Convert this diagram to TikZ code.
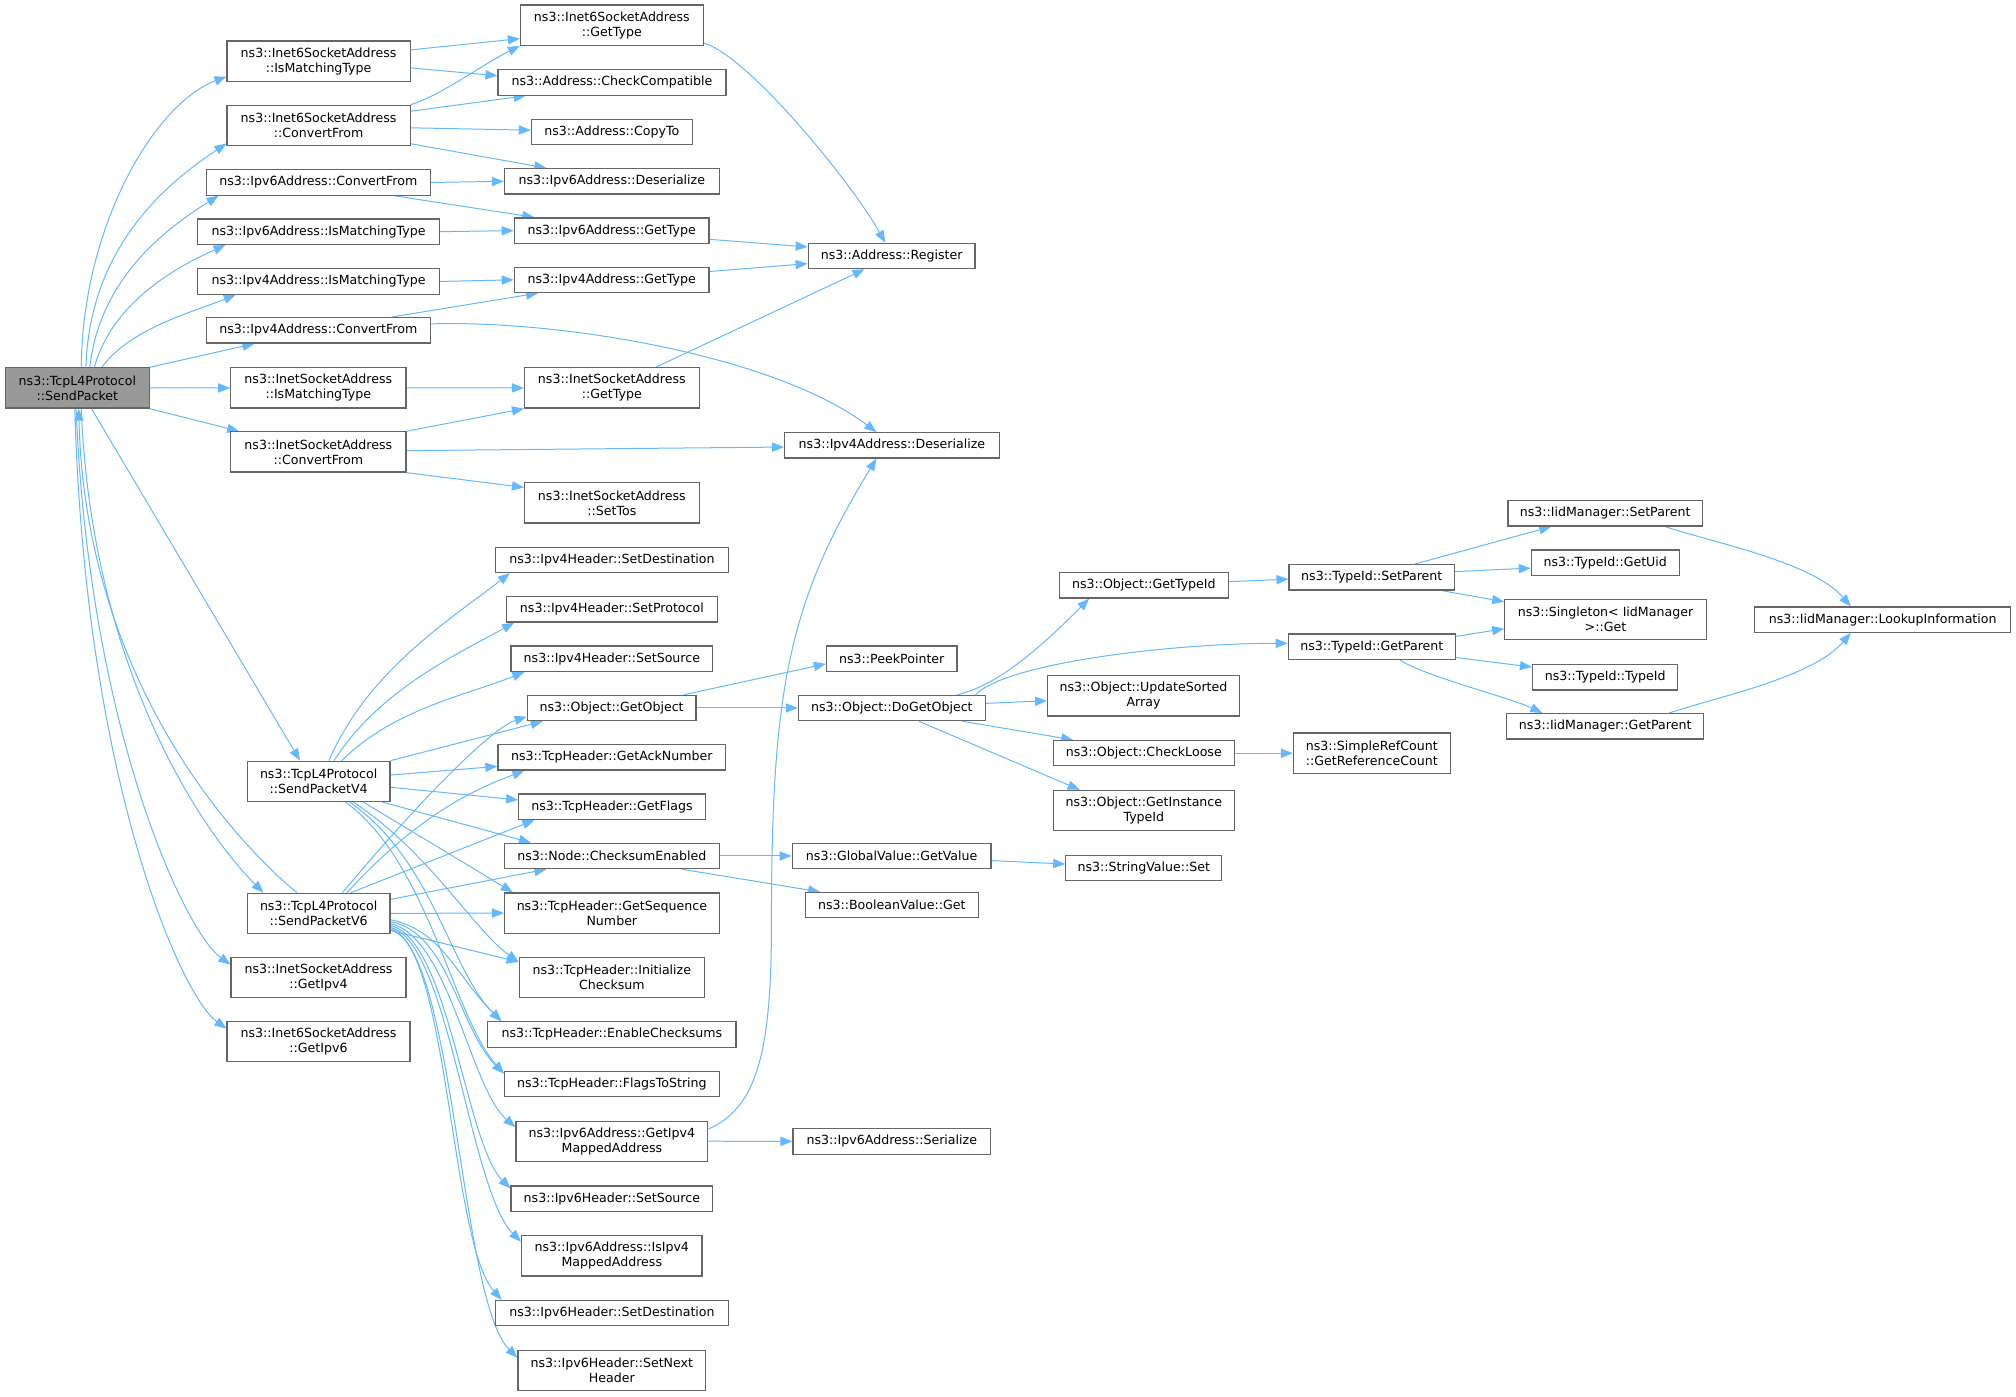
\documentclass[tikz,border=0pt]{standalone}
\usepackage{fontspec}
\setmainfont{DejaVu Sans}
\usepackage{tikz}
\usetikzlibrary{arrows.meta,backgrounds,calc,positioning}
\definecolor{callblue}{HTML}{63B8FF}
\definecolor{boxgray}{HTML}{666666}
\definecolor{rootgray}{HTML}{999999}
\begin{document}
\begin{tikzpicture}[x=0.643pt,y=-0.643pt,
  fn/.style={draw=boxgray,fill=white,line width=0.6pt,inner xsep=1pt,inner ysep=0pt,minimum height=12.7pt,align=center,font=\fontsize{6.3}{7.5}\selectfont},
  fntwo/.style={fn,minimum height=20.1pt},
  root/.style={fill=rootgray},
  bw/.style={minimum width=#1*0.643pt},
  call/.style={draw=callblue,line width=0.5pt,-{Triangle[length=6pt,width=4.6pt]}}]
\useasboundingbox (0,0) rectangle (1568,1085.8);
\node[fntwo,root,bw=111.6] (SendPacket) at (60.2,301.75) {ns3::TcpL4Protocol\\::SendPacket};
\node[fntwo,bw=142.4] (Inet6IsMatching) at (247.8,47.5) {ns3::Inet6SocketAddress\\::IsMatchingType};
\node[fntwo,bw=142.4] (Inet6ConvertFrom) at (247.8,97.5) {ns3::Inet6SocketAddress\\::ConvertFrom};
\node[fn,bw=174.4] (Ipv6ConvertFrom) at (247.6,141.9) {ns3::Ipv6Address::ConvertFrom};
\node[fn,bw=188] (Ipv6IsMatching) at (247.8,180.2) {ns3::Ipv6Address::IsMatchingType};
\node[fn,bw=188] (Ipv4IsMatching) at (247.8,218.9) {ns3::Ipv4Address::IsMatchingType};
\node[fn,bw=174.4] (Ipv4ConvertFrom) at (247.6,256.9) {ns3::Ipv4Address::ConvertFrom};
\node[fntwo,bw=136.2] (InetIsMatching) at (247.6,301.7) {ns3::InetSocketAddress\\::IsMatchingType};
\node[fntwo,bw=136.2] (InetConvertFrom) at (247.6,351.5) {ns3::InetSocketAddress\\::ConvertFrom};
\node[fntwo,bw=110.9] (SendPacketV4) at (247.85,607.7) {ns3::TcpL4Protocol\\::SendPacketV4};
\node[fntwo,bw=110.9] (SendPacketV6) at (247.85,710.4) {ns3::TcpL4Protocol\\::SendPacketV6};
\node[fntwo,bw=136.1] (InetGetIpv4) at (247.75,760.2) {ns3::InetSocketAddress\\::GetIpv4};
\node[fntwo,bw=142.3] (Inet6GetIpv6) at (247.75,810) {ns3::Inet6SocketAddress\\::GetIpv6};
\node[fntwo,bw=142.2] (Inet6GetType) at (475.9,19.55) {ns3::Inet6SocketAddress\\::GetType};
\node[fn,bw=177.3] (CheckCompatible) at (476,64.15) {ns3::Address::CheckCompatible};
\node[fn,bw=125.1] (CopyTo) at (475.85,102.75) {ns3::Address::CopyTo};
\node[fn,bw=167] (Ipv6Deserialize) at (475.9,141) {ns3::Ipv6Address::Deserialize};
\node[fn,bw=151.5] (Ipv6GetType) at (475.75,179.35) {ns3::Ipv6Address::GetType};
\node[fn,bw=151.5] (Ipv4GetType) at (475.75,217.65) {ns3::Ipv4Address::GetType};
\node[fntwo,bw=135.8] (InetGetType) at (475.9,301.75) {ns3::InetSocketAddress\\::GetType};
\node[fntwo,bw=135.8] (SetTos) at (475.9,391.1) {ns3::InetSocketAddress\\::SetTos};
\node[fn,bw=180.7] (Ipv4SetDestination) at (476,435.45) {ns3::Ipv4Header::SetDestination};
\node[fn,bw=163.8] (Ipv4SetProtocol) at (475.9,473.95) {ns3::Ipv4Header::SetProtocol};
\node[fn,bw=156.8] (Ipv4SetSource) at (475.9,512.35) {ns3::Ipv4Header::SetSource};
\node[fn,bw=131.2] (GetObject) at (475.7,550.65) {ns3::Object::GetObject};
\node[fn,bw=177.1] (GetAckNumber) at (475.85,589.05) {ns3::TcpHeader::GetAckNumber};
\node[fn,bw=145.1] (GetFlags) at (476,627.45) {ns3::TcpHeader::GetFlags};
\node[fn,bw=167] (ChecksumEnabled) at (475.9,665.75) {ns3::Node::ChecksumEnabled};
\node[fntwo,bw=167] (GetSequenceNumber) at (475.9,710.15) {ns3::TcpHeader::GetSequence\\Number};
\node[fntwo,bw=144.2] (InitializeChecksum) at (475.9,760.15) {ns3::TcpHeader::Initialize\\Checksum};
\node[fn,bw=193] (EnableChecksums) at (475.9,804.6) {ns3::TcpHeader::EnableChecksums};
\node[fn,bw=167] (FlagsToString) at (475.9,843) {ns3::TcpHeader::FlagsToString};
\node[fntwo,bw=149.2] (GetIpv4Mapped) at (475.9,887.6) {ns3::Ipv6Address::GetIpv4\\MappedAddress};
\node[fn,bw=156.8] (Ipv6SetSource) at (475.9,932.35) {ns3::Ipv6Header::SetSource};
\node[fntwo,bw=140.3] (IsIpv4Mapped) at (475.85,976.75) {ns3::Ipv6Address::IsIpv4\\MappedAddress};
\node[fn,bw=180.7] (Ipv6SetDestination) at (476,1021.35) {ns3::Ipv6Header::SetDestination};
\node[fntwo,bw=146] (Ipv6SetNextHeader) at (475.9,1066) {ns3::Ipv6Header::SetNext\\Header};
\node[fn,bw=129.8] (Register) at (693.5,199.05) {ns3::Address::Register};
\node[fn,bw=167] (Ipv4Deserialize) at (693.7,346.4) {ns3::Ipv4Address::Deserialize};
\node[fn,bw=101.6] (PeekPointer) at (693.6,512.35) {ns3::PeekPointer};
\node[fn,bw=145.4] (DoGetObject) at (693.7,550.65) {ns3::Object::DoGetObject};
\node[fn,bw=154.6] (GlobalGetValue) at (693.5,665.75) {ns3::GlobalValue::GetValue};
\node[fn,bw=134.7] (BooleanGet) at (693.65,704) {ns3::BooleanValue::Get};
\node[fn,bw=153.7] (Ipv6Serialize) at (693.65,887.75) {ns3::Ipv6Address::Serialize};
\node[fn,bw=131.1] (GetTypeId) at (889.65,455.25) {ns3::Object::GetTypeId};
\node[fntwo,bw=149.2] (UpdateSortedArray) at (889.4,541.2) {ns3::Object::UpdateSorted\\Array};
\node[fn,bw=140.9] (CheckLoose) at (889.65,585.8) {ns3::Object::CheckLoose};
\node[fntwo,bw=140.9] (GetInstanceTypeId) at (889.65,630.4) {ns3::Object::GetInstance\\TypeId};
\node[fn,bw=121.3] (StringSet) at (889.65,675) {ns3::StringValue::Set};
\node[fn,bw=128.7] (TypeIdSetParent) at (1066.95,449.05) {ns3::TypeId::SetParent};
\node[fn,bw=130] (TypeIdGetParent) at (1067,502.95) {ns3::TypeId::GetParent};
\node[fntwo,bw=121.9] (GetReferenceCount) at (1066.95,585.8) {ns3::SimpleRefCount\\::GetReferenceCount};
\node[fn,bw=151.1] (IidSetParent) at (1248.45,399.25) {ns3::IidManager::SetParent};
\node[fn,bw=115] (GetUid) at (1248.5,437.65) {ns3::TypeId::GetUid};
\node[fntwo,bw=156.6] (SingletonGet) at (1248.7,482) {ns3::Singleton< IidManager\\>::Get};
\node[fn,bw=113] (TypeIdTypeId) at (1248.5,526.85) {ns3::TypeId::TypeId};
\node[fn,bw=153] (IidGetParent) at (1248.5,564.9) {ns3::IidManager::GetParent};
\node[fn,bw=199.4] (LookupInformation) at (1464.3,482) {ns3::IidManager::LookupInformation};
\begin{scope}[on background layer]
\draw[call] ($(SendPacket.north)+(3,0)$) .. controls +(1,-110) and +(-56,21) .. ($(Inet6IsMatching.south west)+(0,-4)$);
\draw[call] ($(SendPacket.north)+(6.6,0)$) .. controls +(3,-95) and +(-45,30) .. ($(Inet6ConvertFrom.south west)+(0,-2)$);
\draw[call] ($(SendPacket.north)+(9.6,0)$) .. controls +(8,-70) and +(-40,25) .. ($(Ipv6ConvertFrom.south west)+(10,0)$);
\draw[call] ($(SendPacket.north)+(13.2,0)$) .. controls +(14,-50) and +(-40,18) .. ($(Ipv6IsMatching.south west)+(22,0)$);
\draw[call] ($(SendPacket.north)+(19,0)$) .. controls +(22,-30) and +(-35,14) .. ($(Ipv4IsMatching.south west)+(30,0)$);
\draw[call] (SendPacket.north east) -- ($(Ipv4ConvertFrom.south west)+(38,0)$);
\draw[call] (SendPacket.east) -- (InetIsMatching.west);
\draw[call] (SendPacket.south east) -- ($(InetConvertFrom.north west)+(7,0)$);
\draw[call] ($(SendPacket.south)+(11,0)$) -- ($(SendPacketV4.north)+(-14.5,0)$);
\draw[call] ($(SendPacket.south)+(3,0)$) .. controls +(8,200) and +(-50,-50) .. ($(SendPacketV6.north west)+(13,0)$);
\draw[call] ($(SendPacketV6.north)+(-17,0)$) .. controls +(-60,-50) and +(5,200) .. ($(SendPacket.south)+(1,0)$);
\draw[call] ($(SendPacket.south)+(-1,0)$) .. controls +(10,250) and +(-35,-25) .. ($(InetGetIpv4.west)+(0,-10)$);
\draw[call] ($(SendPacket.south)+(-2,0)$) .. controls +(8,290) and +(-35,-25) .. ($(Inet6GetIpv6.west)+(0,-10)$);
\draw[call] ($(Inet6IsMatching.east)+(0,-8.7)$) -- ($(Inet6GetType.south west)+(0,-5.6)$);
\draw[call] ($(Inet6IsMatching.east)+(0,5.3)$) -- ($(CheckCompatible.west)+(0,-5.2)$);
\draw[call] (Inet6ConvertFrom.north east) .. controls +(25,-8) and +(-30,15) .. (Inet6GetType.south west);
\draw[call] ($(Inet6ConvertFrom.east)+(0,-11)$) -- ($(CheckCompatible.south west)+(22,0)$);
\draw[call] ($(Inet6ConvertFrom.east)+(0,1.9)$) -- ($(CopyTo.west)+(0,-1.5)$);
\draw[call] ($(Inet6ConvertFrom.south east)+(0,-1.8)$) -- ($(Ipv6Deserialize.north west)+(33,0)$);
\draw[call] (Ipv6ConvertFrom.east) -- (Ipv6Deserialize.west);
\draw[call] ($(Ipv6ConvertFrom.south)+(59,0)$) -- ($(Ipv6GetType.north west)+(16,0)$);
\draw[call] (Ipv6IsMatching.east) -- (Ipv6GetType.west);
\draw[call] (Ipv4IsMatching.east) -- (Ipv4GetType.west);
\draw[call] ($(Ipv4ConvertFrom.north)+(57,0)$) -- ($(Ipv4GetType.south west)+(19,0)$);
\draw[call] ($(Ipv4ConvertFrom.east)+(0,-5)$) .. controls +(100,-3) and +(-80,-60) .. ($(Ipv4Deserialize.north)+(-12,0)$);
\draw[call] (InetIsMatching.east) -- (InetGetType.west);
\draw[call] (InetConvertFrom.north east) -- (InetGetType.south west);
\draw[call] ($(InetConvertFrom.east)+(0,-1)$) -- ($(Ipv4Deserialize.west)+(0,1.3)$);
\draw[call] (InetConvertFrom.south east) -- ($(SetTos.west)+(0,-12)$);
\draw[call] ($(Inet6GetType.east)+(0,14)$) .. controls +(35,10) and +(-25,-45) .. ($(Register.north)+(-5,0)$);
\draw[call] ($(Ipv6GetType.east)+(0,6.8)$) -- ($(Register.west)+(0,-7)$);
\draw[call] ($(Ipv4GetType.east)+(0,-6.5)$) -- ($(Register.west)+(0,6)$);
\draw[call] ($(InetGetType.north)+(34,0)$) -- ($(Register.south)+(-21,0)$);
\draw[call] ($(GetIpv4Mapped.east)+(0,-9.5)$) .. controls (588,862) and (600,820) .. (600,720) .. controls (600,540) and (612,470) .. ($(Ipv4Deserialize.south)+(-12,0)$);
\draw[call] (GetIpv4Mapped.east) -- (Ipv6Serialize.west);
\draw[call] (ChecksumEnabled.east) -- (GlobalGetValue.west);
\draw[call] ($(ChecksumEnabled.south)+(54.6,0)$) -- ($(BooleanGet.north west)+(12,0)$);
\draw[call] ($(GetObject.north)+(56.4,0)$) -- ($(PeekPointer.west)+(0,4)$);
\draw[call] (GetObject.east) -- (DoGetObject.west);
\draw[call] ($(DoGetObject.north)+(51,0)$) .. controls +(35,-8) and +(-30,30) .. ($(GetTypeId.south west)+(23.5,0)$);
\draw[call] ($(DoGetObject.north)+(65,0)$) .. controls +(25,-25) and +(-90,0) .. ($(TypeIdGetParent.west)+(0,-2.6)$);
\draw[call] ($(DoGetObject.east)+(0,-3.6)$) -- ($(UpdateSortedArray.west)+(0,3.8)$);
\draw[call] ($(DoGetObject.south east)+(-18.4,0)$) -- ($(CheckLoose.north west)+(16,0)$);
\draw[call] ($(DoGetObject.south)+(21,0)$) -- ($(GetInstanceTypeId.north west)+(21,0)$);
\draw[call] ($(GlobalGetValue.east)+(0,3.6)$) -- ($(StringSet.west)+(0,-3)$);
\draw[call] ($(GetTypeId.east)+(0,-2.8)$) -- ($(TypeIdSetParent.west)+(0,1.4)$);
\draw[call] (CheckLoose.east) -- (GetReferenceCount.west);
\draw[call] ($(TypeIdSetParent.north)+(33.5,0)$) -- ($(IidSetParent.south west)+(34,0)$);
\draw[call] ($(TypeIdSetParent.east)+(0,-4.5)$) -- ($(GetUid.west)+(0,4.2)$);
\draw[call] ($(TypeIdSetParent.south)+(54.6,0)$) -- ($(SingletonGet.west)+(0,-14)$);
\draw[call] ($(TypeIdGetParent.east)+(0,-8)$) -- ($(SingletonGet.west)+(0,7)$);
\draw[call] ($(TypeIdGetParent.east)+(0,8.5)$) -- ($(TypeIdTypeId.west)+(0,-8)$);
\draw[call] ($(TypeIdGetParent.south)+(21.8,0)$) .. controls +(20,13) and +(-25,-12) .. ($(IidGetParent.north west)+(28,0)$);
\draw[call] ($(IidSetParent.south)+(46.8,0)$) .. controls +(35,12) and +(-30,-35) .. ($(LookupInformation.north)+(-24.8,0)$);
\draw[call] ($(IidGetParent.north)+(49.8,0)$) .. controls +(35,-12) and +(-30,35) .. ($(LookupInformation.south)+(-24.8,0)$);
\draw[call] ($(SendPacketV4.north)+(8,0)$) .. controls +(30,-70) and +(-45,35) .. ($(Ipv4SetDestination.south west)+(11.4,0)$);
\draw[call] ($(SendPacketV4.north)+(12,0)$) .. controls +(35,-55) and +(-45,25) .. ($(Ipv4SetProtocol.south west)+(6.3,0)$);
\draw[call] ($(SendPacketV4.north)+(18,0)$) .. controls +(40,-40) and +(-45,18) .. ($(Ipv4SetSource.south west)+(10.8,0)$);
\draw[call] (SendPacketV4.north east) -- ($(GetObject.south west)+(12.5,0)$);
\draw[call] ($(SendPacketV4.east)+(0,-4.9)$) -- ($(GetAckNumber.west)+(0,7)$);
\draw[call] ($(SendPacketV4.east)+(0,4.6)$) -- ($(GetFlags.west)+(0,-5.3)$);
\draw[call] ($(SendPacketV4.south east)+(-6.4,0)$) -- ($(ChecksumEnabled.north west)+(21,0)$);
\draw[call] ($(SendPacketV4.south)+(34.7,0)$) -- ($(GetSequenceNumber.north west)+(7,0)$);
\draw[call] ($(SendPacketV4.south)+(27,0)$) .. controls +(60,40) and +(-35,-25) .. ($(InitializeChecksum.west)+(0,-12)$);
\draw[call] ($(SendPacketV4.south)+(24,0)$) .. controls +(65,45) and +(-40,-40) .. ($(EnableChecksums.north west)+(11,0)$);
\draw[call] ($(SendPacketV4.south)+(21,0)$) .. controls +(65,48) and +(-40,-45) .. ($(FlagsToString.west)+(0,-8)$);
\draw[call] ($(SendPacketV6.north)+(18.5,0)$) .. controls +(50,-60) and +(-30,10) .. ($(GetObject.west)+(0,6.7)$);
\draw[call] ($(SendPacketV6.north)+(22,0)$) .. controls +(55,-60) and +(-40,15) .. ($(GetAckNumber.south west)+(21,0)$);
\draw[call] ($(SendPacketV6.north)+(25,0)$) -- ($(GetFlags.south west)+(12.7,0)$);
\draw[call] ($(SendPacketV6.east)+(0,-10.9)$) -- ($(ChecksumEnabled.south west)+(33,0)$);
\draw[call] (SendPacketV6.east) -- (GetSequenceNumber.west);
\draw[call] ($(SendPacketV6.east)+(0,13.3)$) -- ($(InitializeChecksum.west)+(0,-12)$);
\draw[call] ($(SendPacketV6.east)+(0,5)$) .. controls +(40,8) and +(-35,-35) .. ($(EnableChecksums.north west)+(11,0)$);
\draw[call] ($(SendPacketV6.east)+(0,6.5)$) .. controls +(45,8) and +(-35,-35) .. ($(FlagsToString.west)+(0,-8)$);
\draw[call] ($(SendPacketV6.east)+(0,8)$) .. controls +(45,10) and +(-35,-30) .. ($(GetIpv4Mapped.west)+(0,-11)$);
\draw[call] ($(SendPacketV6.east)+(0,9.5)$) .. controls +(45,10) and +(-35,-35) .. ($(Ipv6SetSource.west)+(0,-8)$);
\draw[call] ($(SendPacketV6.east)+(0,11)$) .. controls +(45,10) and +(-40,-40) .. ($(IsIpv4Mapped.west)+(0,-11)$);
\draw[call] ($(SendPacketV6.east)+(0,12)$) .. controls +(45,12) and +(-40,-45) .. ($(Ipv6SetDestination.north west)+(5,0)$);
\draw[call] ($(SendPacketV6.east)+(0,13)$) .. controls +(50,12) and +(-45,-45) .. ($(Ipv6SetNextHeader.west)+(0,-10)$);
\end{scope}
\end{tikzpicture}
\end{document}
